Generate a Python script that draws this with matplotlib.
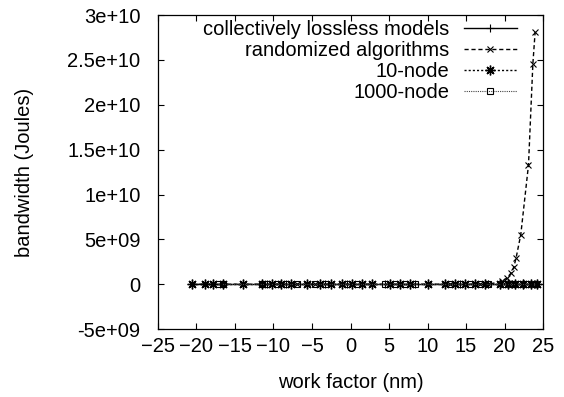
import numpy as np
import matplotlib
matplotlib.use("Agg")
import matplotlib.pyplot as plt
from matplotlib.ticker import FuncFormatter

plt.rcParams['font.family'] = ['Liberation Sans', 'DejaVu Sans']

# ---- data ----
lossless_x = [-20.6, -17.9, -14.0, -10.8, -8.4, -5.7, -3.3, -0.5, 1.5, 4.5,
              6.4, 8.4, 12.3, 14.2, 16.2, 17.9, 19.4, 21.0, 22.5, 24.0]
lossless_y = [0] * len(lossless_x)

random_x = [-20.6, -18.9, -16.6, -14.0, -11.5, -9.0, -6.9, -4.6, -2.5, 0.2,
            2.75, 5.1, 7.7, 10.1, 12.9, 14.9, 16.8, 17.9,
            19.7, 20.3, 20.85, 21.2, 21.5, 22.1, 23.1, 23.67, 23.96]
random_y = [0] * 18 + [3.3e8, 7.0e8, 1.26e9, 1.93e9, 2.98e9, 5.54e9,
                       1.33e10, 2.46e10, 2.81e10]

node10_x = [-20.6, -18.9, -17.9, -16.6, -14.0, -11.5, -10.2, -9.0, -7.7,
            -5.7, -4.0, -2.5, -1.1, 0.2, 1.5, 2.75, 5.1, 6.4, 7.7, 10.1,
            12.3, 13.6, 14.9, 16.2, 17.5, 19.4, 20.4, 21.4, 22.4, 23.4, 24.2]
node10_y = [0] * len(node10_x)

node1000_x = [-17.2, -16.6, -11.5, -10.8, -9.5, -8.4, -6.9, -4.6, -3.3,
              -0.5, 0.8, 4.5, 5.8, 7.1, 8.4, 12.9, 14.2, 15.5, 16.8, 17.9,
              19.9, 20.9, 21.9, 22.9, 23.9]
node1000_y = [0] * len(node1000_x)

ytick_vals = [-5e9, 0, 5e9, 1e10, 1.5e10, 2e10, 2.5e10, 3e10]
ytick_text = ['-5e+09', '0', '5e+09', '1e+10', '1.5e+10', '2e+10', '2.5e+10', '3e+10']
xtick_vals = list(range(-25, 26, 5))

FS = 14.5

fig = plt.figure(figsize=(5.64, 3.97), dpi=100)
ax = fig.add_axes([0.280, 0.171, 0.683, 0.791])

ax.plot(lossless_x, lossless_y, color='black', lw=1.0, ls='-',
        marker='+', ms=6, mew=0.8, label='collectively lossless models')
ax.plot(random_x, random_y, color='black', lw=1.0, ls=(0, (3, 2)),
        marker='x', ms=5, mew=0.8, label='randomized algorithms')
ax.plot(node10_x, node10_y, color='black', lw=1.0, ls=(0, (1.5, 1.5)),
        marker=(8, 2, 0), ms=7, mew=1.0, label='10-node')
ax.plot(node1000_x, node1000_y, color='#444444', lw=0.8, ls=(0, (1, 1)),
        marker='s', ms=5, mew=0.8, mfc='none', mec='black', label='1000-node')

ax.set_xlim(-25, 25)
ax.set_ylim(-5e9, 3e10)
ax.set_xticks(xtick_vals)
ax.set_yticks(ytick_vals)
ax.yaxis.set_major_formatter(FuncFormatter(lambda v, p: ytick_text[ytick_vals.index(v)] if v in ytick_vals else ''))
ax.tick_params(direction='in', length=4.5, width=0.8, top=True, right=True,
               labelsize=FS, colors='black')
ax.tick_params(axis='y', pad=12.5)
ax.tick_params(axis='x', pad=6)
for s in ax.spines.values():
    s.set_linewidth(0.9)

ax.set_xlabel('work factor (nm)', fontsize=FS, labelpad=12)
ax.set_ylabel('bandwidth (Joules)', fontsize=FS, labelpad=24)

leg = ax.legend(loc='upper right', bbox_to_anchor=(0.932, 0.985), frameon=False,
                markerfirst=False, fontsize=FS, handlelength=2.65,
                handletextpad=0.7, labelspacing=0.1, borderaxespad=0.0,
                borderpad=0.0)

fig.savefig('out.png', dpi=100)
